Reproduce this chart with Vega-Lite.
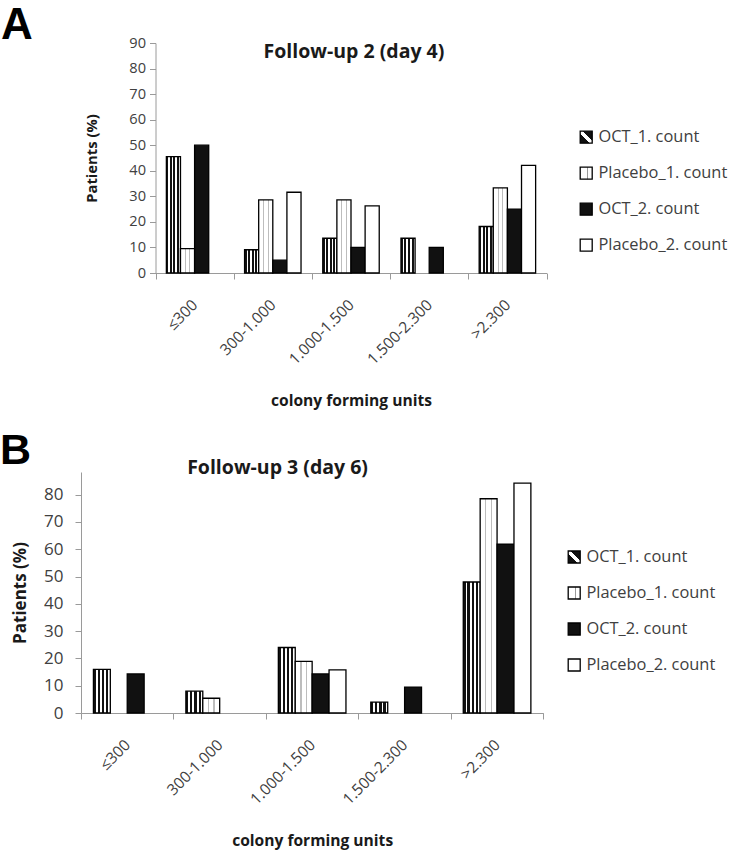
{
  "$schema": "https://vega.github.io/schema/vega-lite/v6.json",
  "background": "white",
  "padding": {"left": 0, "top": 3, "right": 0, "bottom": 0},
  "config": {
    "font": "Open Sans",
    "view": {"stroke": null},
    "axis": {
      "labelFont": "Open Sans",
      "titleFont": "Open Sans",
      "labelColor": "#404040",
      "titleColor": "#1a1a1a",
      "titleFontWeight": "bold",
      "domainColor": "#9a9a9a",
      "tickColor": "#9a9a9a",
      "grid": false
    },
    "legend": {
      "labelFont": "Open Sans",
      "labelColor": "#404040",
      "labelFontSize": 16.4,
      "labelLimit": 300
    }
  },
  "datasets": {
    "day4": [
      {"cfu": "≤300", "series": "OCT_1. count", "value": 45.5},
      {"cfu": "≤300", "series": "Placebo_1. count", "value": 9.5},
      {"cfu": "≤300", "series": "OCT_2. count", "value": 50},
      {"cfu": "≤300", "series": "Placebo_2. count", "value": 0},
      {"cfu": "300-1.000", "series": "OCT_1. count", "value": 9.1},
      {"cfu": "300-1.000", "series": "Placebo_1. count", "value": 28.6},
      {"cfu": "300-1.000", "series": "OCT_2. count", "value": 5},
      {"cfu": "300-1.000", "series": "Placebo_2. count", "value": 31.6},
      {"cfu": "1.000-1.500", "series": "OCT_1. count", "value": 13.6},
      {"cfu": "1.000-1.500", "series": "Placebo_1. count", "value": 28.6},
      {"cfu": "1.000-1.500", "series": "OCT_2. count", "value": 10},
      {"cfu": "1.000-1.500", "series": "Placebo_2. count", "value": 26.3},
      {"cfu": "1.500-2.300", "series": "OCT_1. count", "value": 13.6},
      {"cfu": "1.500-2.300", "series": "Placebo_1. count", "value": 0},
      {"cfu": "1.500-2.300", "series": "OCT_2. count", "value": 10},
      {"cfu": "1.500-2.300", "series": "Placebo_2. count", "value": 0},
      {"cfu": ">2.300", "series": "OCT_1. count", "value": 18.2},
      {"cfu": ">2.300", "series": "Placebo_1. count", "value": 33.3},
      {"cfu": ">2.300", "series": "OCT_2. count", "value": 25},
      {"cfu": ">2.300", "series": "Placebo_2. count", "value": 42.1}
    ],
    "day6": [
      {"cfu": "≤300", "series": "OCT_1. count", "value": 16},
      {"cfu": "≤300", "series": "Placebo_1. count", "value": 0},
      {"cfu": "≤300", "series": "OCT_2. count", "value": 14.3},
      {"cfu": "≤300", "series": "Placebo_2. count", "value": 0},
      {"cfu": "300-1.000", "series": "OCT_1. count", "value": 8},
      {"cfu": "300-1.000", "series": "Placebo_1. count", "value": 5.4},
      {"cfu": "300-1.000", "series": "OCT_2. count", "value": 0},
      {"cfu": "300-1.000", "series": "Placebo_2. count", "value": 0},
      {"cfu": "1.000-1.500", "series": "OCT_1. count", "value": 24},
      {"cfu": "1.000-1.500", "series": "Placebo_1. count", "value": 18.9},
      {"cfu": "1.000-1.500", "series": "OCT_2. count", "value": 14.3},
      {"cfu": "1.000-1.500", "series": "Placebo_2. count", "value": 15.8},
      {"cfu": "1.500-2.300", "series": "OCT_1. count", "value": 4},
      {"cfu": "1.500-2.300", "series": "Placebo_1. count", "value": 0},
      {"cfu": "1.500-2.300", "series": "OCT_2. count", "value": 9.5},
      {"cfu": "1.500-2.300", "series": "Placebo_2. count", "value": 0},
      {"cfu": ">2.300", "series": "OCT_1. count", "value": 48},
      {"cfu": ">2.300", "series": "Placebo_1. count", "value": 78.5},
      {"cfu": ">2.300", "series": "OCT_2. count", "value": 61.9},
      {"cfu": ">2.300", "series": "Placebo_2. count", "value": 84.2}
    ]
  },
  "columns": 1,
  "spacing": 19,
  "resolve": {
    "scale": {"x": "independent", "y": "independent", "xOffset": "independent", "fill": "independent"},
    "legend": {"fill": "independent"}
  },
  "concat": [
    {
      "title": {"text": "Follow-up 2 (day 4)", "anchor": "middle", "frame": "bounds", "font": "Open Sans", "fontSize": 19.5, "fontWeight": "bold", "color": "#1a1a1a", "baseline": "alphabetic", "offset": -73.4, "dx": -10.5},
      "vconcat": [
        {
          "width": 465.5,
          "height": 230,
          "title": {"text": "A", "anchor": "start", "frame": "bounds", "font": "Liberation Sans", "fontSize": 44, "fontWeight": "bold", "color": "black", "baseline": "alphabetic", "dx": -75.1, "offset": -47.6},
          "data": {"name": "day4"},
          "transform": [{"filter": "datum.value > 0"}],
          "mark": {"type": "bar", "stroke": "black", "strokeWidth": 1.3},
          "encoding": {
            "x": {
              "field": "cfu", "type": "nominal",
              "sort": ["≤300", "300-1.000", "1.000-1.500", "1.500-2.300", ">2.300"],
              "scale": {"paddingInner": 0, "paddingOuter": 0, "range": [74.5, 465.5]},
              "axis": {"title": "colony forming units", "labelAngle": -45, "labelAlign": "right", "labelBaseline": "middle", "labelOverlap": false, "tickBand": "extent", "tickSize": 6, "labelPadding": 23, "labelFontSize": 15.5, "titleFontSize": 15.6, "titlePadding": 26.5}
            },
            "xOffset": {
              "field": "series", "type": "nominal",
              "scale": {"domain": ["OCT_1. count", "Placebo_1. count", "OCT_2. count", "Placebo_2. count"], "paddingInner": 0, "paddingOuter": 0.77}
            },
            "y": {
              "field": "value", "type": "quantitative",
              "scale": {"domain": [0, 90], "nice": false},
              "axis": {"title": "Patients (%)", "offset": -74.5, "values": [0, 10, 20, 30, 40, 50, 60, 70, 80, 90], "tickSize": 6, "labelPadding": 4, "labelFontSize": 14.6, "titleFontSize": 14.8, "titlePadding": 29}
            },
            "fill": {
              "field": "series", "type": "nominal",
              "condition": [
                {"test": "datum.series === 'OCT_1. count'", "value": {"gradient": "linear", "x1": 0, "y1": 0, "x2": 1, "y2": 0, "stops": [
                    {"offset": 0, "color": "#111111"}, {"offset": 0.14, "color": "#111111"}, {"offset": 0.14, "color": "white"}, {"offset": 0.25, "color": "white"},
                    {"offset": 0.25, "color": "#111111"}, {"offset": 0.39, "color": "#111111"}, {"offset": 0.39, "color": "white"}, {"offset": 0.5, "color": "white"},
                    {"offset": 0.5, "color": "#111111"}, {"offset": 0.64, "color": "#111111"}, {"offset": 0.64, "color": "white"}, {"offset": 0.75, "color": "white"},
                    {"offset": 0.75, "color": "#111111"}, {"offset": 0.89, "color": "#111111"}, {"offset": 0.89, "color": "white"}, {"offset": 1, "color": "white"}
                  ]}},
                {"test": "datum.series === 'Placebo_1. count'", "value": {"gradient": "linear", "x1": 0, "y1": 0, "x2": 1, "y2": 0, "stops": [
                    {"offset": 0, "color": "white"}, {"offset": 0.3, "color": "white"}, {"offset": 0.3, "color": "#bdbdbd"}, {"offset": 0.37, "color": "#bdbdbd"},
                    {"offset": 0.37, "color": "white"}, {"offset": 0.63, "color": "white"}, {"offset": 0.63, "color": "#bdbdbd"}, {"offset": 0.7, "color": "#bdbdbd"},
                    {"offset": 0.7, "color": "white"}, {"offset": 1, "color": "white"}
                  ]}}
              ],
              "scale": {
                "domain": ["OCT_1. count", "Placebo_1. count", "OCT_2. count", "Placebo_2. count"],
                "range": [
                  {"expr": "{gradient: 'linear', x1: 0, y1: 1, x2: 1, y2: 0, stops: [{offset: 0, color: '#111111'}, {offset: 0.4, color: '#111111'}, {offset: 0.4, color: 'white'}, {offset: 0.6, color: 'white'}, {offset: 0.6, color: '#111111'}, {offset: 1, color: '#111111'}]}"},
                  {"expr": "{gradient: 'linear', x1: 0, y1: 0, x2: 1, y2: 0, stops: [{offset: 0, color: 'white'}, {offset: 0.55, color: 'white'}, {offset: 0.55, color: '#9a9a9a'}, {offset: 0.68, color: '#9a9a9a'}, {offset: 0.68, color: 'white'}, {offset: 1, color: 'white'}]}"},
                  "#111111",
                  "white"
                ]
              },
              "legend": {
                "title": null, "orient": "none", "legendX": 497, "legendY": 86, "padding": 0,
                "symbolType": "square", "symbolSize": 144, "symbolStrokeColor": "black", "symbolStrokeWidth": 1.3, "symbolOpacity": 1,
                "rowPadding": 18, "labelOffset": 4,
                "encode": {"symbols": {"update": {"stroke": {"value": "black"}, "strokeWidth": {"value": 1.3}}}}
              }
            }
          }
        }
      ]
    },
    {
      "title": {"text": "Follow-up 3 (day 6)", "anchor": "middle", "frame": "bounds", "font": "Open Sans", "fontSize": 19.5, "fontWeight": "bold", "color": "#1a1a1a", "baseline": "alphabetic", "offset": -63.9, "dx": -80.5},
      "vconcat": [
        {
          "width": 462.3,
          "height": 241,
          "title": {"text": "B", "anchor": "start", "frame": "bounds", "font": "Liberation Sans", "fontSize": 43, "fontWeight": "bold", "color": "black", "baseline": "alphabetic", "dx": -11.5, "offset": -34.6},
          "data": {"name": "day6"},
          "transform": [{"filter": "datum.value > 0"}],
          "mark": {"type": "bar", "stroke": "black", "strokeWidth": 1.3},
          "encoding": {
            "x": {
              "field": "cfu", "type": "nominal",
              "sort": ["≤300", "300-1.000", "1.000-1.500", "1.500-2.300", ">2.300"],
              "scale": {"paddingInner": 0, "paddingOuter": 0},
              "axis": {"title": "colony forming units", "labelAngle": -45, "labelAlign": "right", "labelBaseline": "middle", "labelOverlap": false, "tickBand": "extent", "tickSize": 6, "labelPadding": 23, "labelFontSize": 15.5, "titleFontSize": 15.6, "titlePadding": 26.5}
            },
            "xOffset": {
              "field": "series", "type": "nominal",
              "scale": {"domain": ["OCT_1. count", "Placebo_1. count", "OCT_2. count", "Placebo_2. count"], "paddingInner": 0, "paddingOuter": 0.735}
            },
            "y": {
              "field": "value", "type": "quantitative",
              "scale": {"domain": [0, 88.3], "nice": false},
              "axis": {"title": "Patients (%)", "values": [0, 10, 20, 30, 40, 50, 60, 70, 80], "tickSize": 6, "labelPadding": 12, "labelFontSize": 17, "titleFontSize": 17, "titlePadding": 14}
            },
            "fill": {
              "field": "series", "type": "nominal",
              "condition": [
                {"test": "datum.series === 'OCT_1. count'", "value": {"gradient": "linear", "x1": 0, "y1": 0, "x2": 1, "y2": 0, "stops": [
                    {"offset": 0, "color": "#111111"}, {"offset": 0.14, "color": "#111111"}, {"offset": 0.14, "color": "white"}, {"offset": 0.25, "color": "white"},
                    {"offset": 0.25, "color": "#111111"}, {"offset": 0.39, "color": "#111111"}, {"offset": 0.39, "color": "white"}, {"offset": 0.5, "color": "white"},
                    {"offset": 0.5, "color": "#111111"}, {"offset": 0.64, "color": "#111111"}, {"offset": 0.64, "color": "white"}, {"offset": 0.75, "color": "white"},
                    {"offset": 0.75, "color": "#111111"}, {"offset": 0.89, "color": "#111111"}, {"offset": 0.89, "color": "white"}, {"offset": 1, "color": "white"}
                  ]}},
                {"test": "datum.series === 'Placebo_1. count'", "value": {"gradient": "linear", "x1": 0, "y1": 0, "x2": 1, "y2": 0, "stops": [
                    {"offset": 0, "color": "white"}, {"offset": 0.3, "color": "white"}, {"offset": 0.3, "color": "#bdbdbd"}, {"offset": 0.37, "color": "#bdbdbd"},
                    {"offset": 0.37, "color": "white"}, {"offset": 0.63, "color": "white"}, {"offset": 0.63, "color": "#bdbdbd"}, {"offset": 0.7, "color": "#bdbdbd"},
                    {"offset": 0.7, "color": "white"}, {"offset": 1, "color": "white"}
                  ]}}
              ],
              "scale": {
                "domain": ["OCT_1. count", "Placebo_1. count", "OCT_2. count", "Placebo_2. count"],
                "range": [
                  {"expr": "{gradient: 'linear', x1: 0, y1: 1, x2: 1, y2: 0, stops: [{offset: 0, color: '#111111'}, {offset: 0.4, color: '#111111'}, {offset: 0.4, color: 'white'}, {offset: 0.6, color: 'white'}, {offset: 0.6, color: '#111111'}, {offset: 1, color: '#111111'}]}"},
                  {"expr": "{gradient: 'linear', x1: 0, y1: 0, x2: 1, y2: 0, stops: [{offset: 0, color: 'white'}, {offset: 0.55, color: 'white'}, {offset: 0.55, color: '#9a9a9a'}, {offset: 0.68, color: '#9a9a9a'}, {offset: 0.68, color: 'white'}, {offset: 1, color: 'white'}]}"},
                  "#111111",
                  "white"
                ]
              },
              "legend": {
                "title": null, "orient": "none", "legendX": 485, "legendY": 76.8, "padding": 0,
                "symbolType": "square", "symbolSize": 144, "symbolStrokeColor": "black", "symbolStrokeWidth": 1.3, "symbolOpacity": 1,
                "rowPadding": 18, "labelOffset": 4,
                "encode": {"symbols": {"update": {"stroke": {"value": "black"}, "strokeWidth": {"value": 1.3}}}}
              }
            }
          }
        }
      ]
    }
  ]
}
